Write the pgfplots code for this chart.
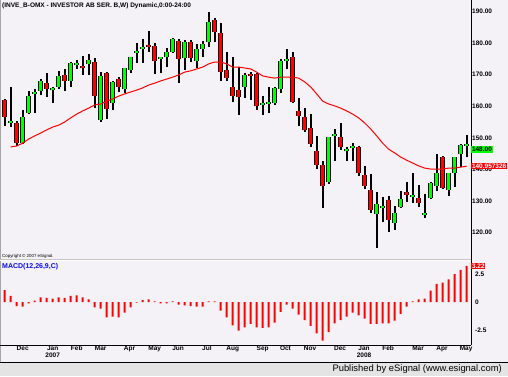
\documentclass[border=0pt]{standalone}
\usepackage{pgfplots}
\pgfplotsset{compat=1.18}
\usepackage{pgfplotstable}
\usepackage{fontspec}
\setmainfont{Liberation Sans}
\definecolor{bg}{RGB}{244,242,246}
\definecolor{cgreen}{RGB}{0,255,0}
\definecolor{cred}{RGB}{255,0,0}
\definecolor{strip}{RGB}{228,228,228}
\definecolor{macdblue}{RGB}{10,10,235}

\pgfplotstableread{
i O H L C
0 162.0 162.3 153.7 156.6
1 154.7 166.1 153.4 155.3
2 154.7 155.3 147.4 148.3
3 148.3 158.8 148.0 156.6
4 157.8 164.8 157.5 163.2
5 163.9 165.4 157.8 164.5
6 164.8 168.6 163.5 168.0
7 167.3 170.5 162.9 165.4
8 165.1 166.1 161.0 165.8
9 166.1 171.2 165.4 169.6
10 169.9 171.8 164.8 168.0
11 168.0 174.0 166.1 173.7
12 173.0 174.6 171.8 173.7
13 172.7 175.9 169.9 172.1
14 173.4 176.5 169.9 174.6
15 174.0 175.3 159.4 163.2
16 155.6 170.8 155.0 169.6
17 170.5 170.8 155.9 159.1
18 161.0 168.0 158.8 167.7
19 168.6 169.2 164.5 166.1
20 165.4 172.1 164.2 172.1
21 171.5 175.6 170.5 175.6
22 176.9 180.0 173.7 177.5
23 178.1 181.3 173.7 178.8
24 179.4 183.8 177.2 178.8
25 179.1 180.0 170.2 174.3
26 174.9 175.6 170.5 175.6
27 175.6 178.4 172.4 177.2
28 177.2 181.6 176.9 181.3
29 180.7 181.3 167.3 174.9
30 175.3 181.0 171.5 180.3
31 180.3 181.0 174.0 175.3
32 174.3 179.7 172.1 178.1
33 178.1 180.7 175.6 179.7
34 180.3 189.8 178.8 186.7
35 187.3 187.9 180.3 183.5
36 183.2 186.4 168.0 170.8
37 171.5 177.2 168.0 168.9
38 166.1 175.6 161.3 163.2
39 165.1 172.4 157.2 162.9
40 166.1 170.5 162.6 169.9
41 170.2 170.8 162.0 169.6
42 170.2 170.5 158.8 160.1
43 160.4 163.2 157.2 161.0
44 160.7 166.1 157.8 161.3
45 161.0 166.1 160.4 165.8
46 165.4 174.9 164.2 174.3
47 174.3 178.1 171.8 174.9
48 175.6 177.2 161.0 161.3
49 158.5 162.6 153.7 156.9
50 156.6 159.4 151.8 152.5
51 153.1 157.5 147.1 148.0
52 145.8 150.6 140.1 141.4
53 141.4 142.6 127.7 134.7
54 136.0 150.2 135.4 150.2
55 150.6 152.8 142.6 151.2
56 150.2 154.7 146.1 147.1
57 145.8 147.1 142.6 146.4
58 146.8 148.3 142.6 147.4
59 147.1 147.4 137.9 138.8
60 138.2 141.1 133.8 134.7
61 133.5 138.5 126.2 127.1
62 125.8 132.8 115.1 129.0
63 127.7 131.2 123.3 128.4
64 130.3 131.5 120.1 123.9
65 123.0 128.4 120.8 126.2
66 128.1 133.1 127.7 130.6
67 132.8 136.0 129.6 131.9
68 131.2 138.8 129.3 131.9
69 130.9 135.0 128.1 129.3
70 125.5 132.2 124.6 126.2
71 130.9 136.0 130.6 135.7
72 134.7 144.8 133.1 138.8
73 143.9 144.2 133.8 134.1
74 133.5 138.8 131.5 138.8
75 138.8 143.9 134.4 143.9
76 144.8 148.0 140.7 147.7
77 147.4 150.9 143.9 148.0
}\candles

\pgfplotstableread{
i ma
1 147.1
2 147.4
3 148.3
4 149.6
5 150.6
6 151.5
7 152.5
8 153.4
9 154.0
10 155.0
11 156.3
12 157.5
13 158.5
14 159.4
15 160.4
16 160.7
17 161.6
18 162.3
19 163.2
20 163.9
21 164.5
22 165.1
23 165.8
24 166.7
25 167.3
26 168.0
27 168.6
28 169.2
29 169.9
30 170.8
31 171.2
32 171.8
33 172.4
34 173.4
35 174.0
36 174.0
37 173.4
38 172.4
39 172.4
40 172.1
41 171.8
42 170.8
43 169.6
44 169.2
45 168.9
46 169.2
47 169.2
48 169.2
49 168.9
50 167.7
51 166.1
52 163.9
53 161.6
54 160.7
55 160.1
56 159.4
57 158.5
58 157.5
59 156.3
60 154.7
61 152.8
62 150.6
63 148.3
64 146.4
65 145.2
66 143.9
67 142.9
68 142.0
69 141.1
70 140.4
71 140.1
72 140.1
73 140.1
74 140.4
75 140.4
76 140.7
77 141.0
}\mavg

\pgfplotstableread{
i m
0 1.07
1 0.54
2 -0.36
3 -0.42
4 -0.12
5 0.12
6 0.42
7 0.36
8 0.30
9 0.42
10 0.36
11 0.54
12 0.60
13 0.42
14 0.24
15 -0.48
16 -0.60
17 -1.37
18 -1.31
19 -1.37
20 -0.95
21 -0.48
22 -0.06
23 0.18
24 0.24
25 0.05
26 -0.12
27 -0.12
28 0.06
29 -0.24
30 -0.30
31 -0.36
32 -0.42
33 -0.42
34 0.06
35 0.06
36 -0.77
37 -1.37
38 -2.08
39 -2.56
40 -2.26
41 -1.96
42 -2.26
43 -2.32
44 -2.26
45 -1.85
46 -0.89
47 -0.24
48 -0.60
49 -1.13
50 -1.61
51 -2.14
52 -2.80
53 -3.45
54 -2.68
55 -1.90
56 -1.61
57 -1.31
58 -0.95
59 -1.19
60 -1.49
61 -1.96
62 -1.96
63 -1.90
64 -1.90
65 -1.67
66 -1.07
67 -0.42
68 0.06
69 0.24
70 0.30
71 1.01
72 1.61
73 1.73
74 2.02
75 2.50
76 2.86
77 3.22
}\macd

\pgfplotsset{
  candlebar/.style 2 args={draw=none, mark=none, forget plot,
    error bars/.cd, y dir=plus, y explicit, error mark=none,
    error bar style={solid, line width=#1, draw=#2}, /pgfplots/.cd},
}

\begin{document}
\begin{tikzpicture}
\useasboundingbox (0pt,0pt) rectangle (508pt,-376pt);
\fill[bg] (0pt,0pt) rectangle (508pt,-362pt);
\fill[strip] (0pt,-362pt) rectangle (508pt,-376pt);
\draw[black, line width=0.9pt] (0pt,-362pt) -- (508pt,-362pt);
\draw[gray!70, line width=1pt] (0.5pt,0pt) -- (0.5pt,-362pt);
\draw[gray!45, line width=0.7pt] (0pt,-259.8pt) -- (471pt,-259.8pt);
\draw[white, line width=0.7pt] (0pt,-260.6pt) -- (471pt,-260.6pt);
\node[anchor=west, inner sep=0pt, font=\fontsize{6.5}{7}\selectfont\bfseries] at (2pt,-6pt) {(INVE\_B-OMX - INVESTOR AB SER. B,W) Dynamic,0:00-24:00};
\node[anchor=west, inner sep=0pt, font=\fontsize{4.4}{5}\selectfont] at (2pt,-256.5pt) {Copyright \textcopyright{} 2007 eSignal.};
\node[anchor=west, inner sep=0pt, font=\fontsize{7}{8}\selectfont\bfseries, text=macdblue] at (2pt,-266.7pt) {MACD(12,26,9,C)};
\node[anchor=east, inner sep=0pt, font=\fontsize{9.4}{10}\selectfont] at (502pt,-369pt) {Published by eSignal (www.esignal.com)};

\begin{axis}[
  at={(0pt,0pt)}, anchor=north west,
  scale only axis, width=471pt, height=258pt,
  xmin=-0.783, xmax=77.72, ymin=111.92, ymax=193.64,
  axis x line=none, axis y line*=right,
  axis line style={black, line width=0.8pt},
  ytick={120,130,...,190},
  yticklabels={120.00,130.00,140.00,150.00,160.00,170.00,180.00,190.00},
  yticklabel style={font=\fontsize{6.5}{7}\selectfont\bfseries, anchor=west, inner sep=1pt},
  ytick style={draw=none},
  clip mode=individual,
]
\addplot[candlebar={1.8pt}{black}]
  table[x=i, y=L, y error expr=\thisrow{H}-\thisrow{L}] {\candles};
\addplot[candlebar={4.8pt}{black},
  restrict expr to domain={\thisrow{C}-\thisrow{O}}{0:100}]
  table[x=i, y=O, y error expr=\thisrow{C}-\thisrow{O}] {\candles};
\addplot[candlebar={3.4pt}{cgreen},
  restrict expr to domain={\thisrow{C}-\thisrow{O}}{0:100}]
  table[x=i, y=O, y error expr=\thisrow{C}-\thisrow{O}] {\candles};
\addplot[candlebar={4.8pt}{black},
  restrict expr to domain={\thisrow{O}-\thisrow{C}}{0.001:100}]
  table[x=i, y=C, y error expr=\thisrow{O}-\thisrow{C}] {\candles};
\addplot[candlebar={3.4pt}{cred},
  restrict expr to domain={\thisrow{O}-\thisrow{C}}{0.001:100}]
  table[x=i, y=C, y error expr=\thisrow{O}-\thisrow{C}] {\candles};
\addplot[cred, line width=1pt, mark=none] table[x=i, y=ma] {\mavg};
\node[anchor=west, fill=cgreen, inner sep=0.8pt, font=\fontsize{6.5}{7}\selectfont\bfseries] at (axis cs:77.72,146.3) {148.00};
\node[anchor=west, fill=cred, text=white, inner sep=0.8pt, font=\fontsize{6.5}{7}\selectfont\bfseries] at (axis cs:77.72,140.957) {140.957326};
\end{axis}

\begin{axis}[
  at={(0pt,-258pt)}, anchor=north west,
  scale only axis, width=471pt, height=87pt,
  xmin=-0.783, xmax=77.72, ymin=-3.84, ymax=3.93,
  axis x line*=bottom, axis y line*=right,
  axis line style={black, line width=0.8pt},
  ytick={-2.5,0,2.5}, yticklabels={-2.5,0,2.5},
  yticklabel style={font=\fontsize{6.5}{7}\selectfont\bfseries, anchor=west, inner sep=1pt, xshift=3pt},
  xtick={3,8,12,16,20.8,25,28.9,33.7,38,43,46.8,50.9,55.9,59.9,63.9,68.9,72.9,76.9},
  xticklabels={Dec,{Jan\\2007},Feb,Mar,Apr,May,Jun,Jul,Aug,Sep,Oct,Nov,Dec,{Jan\\2008},Feb,Mar,Apr,May},
  xticklabel style={align=center, font=\fontsize{6.5}{7}\selectfont\bfseries, inner sep=1pt},
  tick style={draw=none},
  clip mode=individual,
]
\addplot[ybar, bar width=2pt, fill=cred, draw=none] table[x=i, y=m] {\macd};
\node[anchor=west, fill=cred, text=white, inner sep=0.8pt, font=\fontsize{6.5}{7}\selectfont\bfseries] at (axis cs:77.72,3.22) {3.22};
\end{axis}
\end{tikzpicture}
\end{document}
